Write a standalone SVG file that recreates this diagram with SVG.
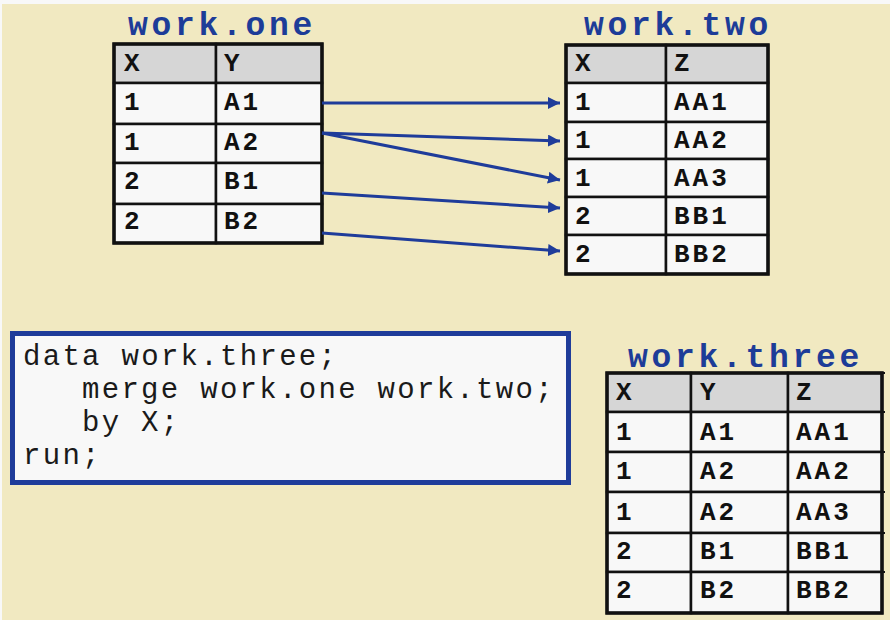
<svg xmlns="http://www.w3.org/2000/svg" width="890" height="620" viewBox="0 0 890 620">
<style>
.title{font-family:"Liberation Mono","Courier New",monospace;font-weight:bold;font-size:33px;letter-spacing:3.7px;fill:#1d3c98}
.cell{font-family:"Liberation Mono","Courier New",monospace;font-weight:bold;font-size:26px;fill:#111;letter-spacing:3px}
.hdr{fill:#d6d6d6;stroke:#111;stroke-width:2.5}
.row{fill:#f8f8f8;stroke:#111;stroke-width:2.5}
.outer{fill:none;stroke:#111;stroke-width:3.5}
.code{font-family:"Liberation Mono","Courier New",monospace;font-size:29px;letter-spacing:2.3px;fill:#1a1a1a}
.conn{stroke:#1f3c9a;stroke-width:3;fill:none}
</style>
<defs>
<marker id="ah" viewBox="0 0 10 10" refX="10" refY="5" markerWidth="4" markerHeight="4" orient="auto" markerUnits="strokeWidth">
<path d="M0,0 L10,5 L0,10 z" fill="#1f3c9a"/>
</marker>
</defs>
<rect x="0" y="0" width="890" height="620" fill="#f8f8f8"/>
<rect x="2" y="4" width="888" height="616" fill="#f1e9c1"/>

<g id="work-one">
<text class="title" x="128" y="35">work.one</text>
<rect class="hdr" x="114" y="44" width="102" height="39"/>
<rect class="hdr" x="216" y="44" width="106" height="39"/>
<rect class="row" x="114" y="83" width="102" height="41"/>
<rect class="row" x="216" y="83" width="106" height="41"/>
<rect class="row" x="114" y="124" width="102" height="39"/>
<rect class="row" x="216" y="124" width="106" height="39"/>
<rect class="row" x="114" y="163" width="102" height="41"/>
<rect class="row" x="216" y="163" width="106" height="41"/>
<rect class="row" x="114" y="204" width="102" height="39"/>
<rect class="row" x="216" y="204" width="106" height="39"/>
<rect class="outer" x="114" y="44" width="208" height="199"/>
<text class="cell" x="124" y="71">X</text><text class="cell" x="224" y="71">Y</text>
<text class="cell" x="124" y="110">1</text><text class="cell" x="224" y="110">A1</text>
<text class="cell" x="124" y="150">1</text><text class="cell" x="224" y="150">A2</text>
<text class="cell" x="124" y="189">2</text><text class="cell" x="224" y="189">B1</text>
<text class="cell" x="124" y="229">2</text><text class="cell" x="224" y="229">B2</text>
</g>

<g id="work-two">
<text class="title" x="584" y="35">work.two</text>
<rect class="hdr" x="566" y="45" width="100" height="38"/>
<rect class="hdr" x="666" y="45" width="102" height="38"/>
<rect class="row" x="566" y="83" width="100" height="39"/>
<rect class="row" x="666" y="83" width="102" height="39"/>
<rect class="row" x="566" y="122" width="100" height="37"/>
<rect class="row" x="666" y="122" width="102" height="37"/>
<rect class="row" x="566" y="159" width="100" height="38"/>
<rect class="row" x="666" y="159" width="102" height="38"/>
<rect class="row" x="566" y="197" width="100" height="38"/>
<rect class="row" x="666" y="197" width="102" height="38"/>
<rect class="row" x="566" y="235" width="100" height="39"/>
<rect class="row" x="666" y="235" width="102" height="39"/>
<rect class="outer" x="566" y="45" width="202" height="229"/>
<text class="cell" x="575" y="71">X</text><text class="cell" x="674" y="71">Z</text>
<text class="cell" x="575" y="110">1</text><text class="cell" x="674" y="110">AA1</text>
<text class="cell" x="575" y="148">1</text><text class="cell" x="674" y="148">AA2</text>
<text class="cell" x="575" y="186">1</text><text class="cell" x="674" y="186">AA3</text>
<text class="cell" x="575" y="224">2</text><text class="cell" x="674" y="224">BB1</text>
<text class="cell" x="575" y="262">2</text><text class="cell" x="674" y="262">BB2</text>
</g>

<g id="connectors">
<line class="conn" x1="322" y1="103" x2="560" y2="103" marker-end="url(#ah)"/>
<line class="conn" x1="322" y1="133" x2="560" y2="141" marker-end="url(#ah)"/>
<line class="conn" x1="322" y1="133" x2="560" y2="180" marker-end="url(#ah)"/>
<line class="conn" x1="322" y1="193" x2="560" y2="208" marker-end="url(#ah)"/>
<line class="conn" x1="322" y1="233" x2="560" y2="251" marker-end="url(#ah)"/>
</g>

<g id="code">
<rect x="12.5" y="333.5" width="556" height="149" fill="#f8f8f8" stroke="#1f3c9a" stroke-width="5"/>
<text class="code" x="23" y="365">data work.three;</text>
<text class="code" x="82" y="398">merge work.one work.two;</text>
<text class="code" x="82" y="431">by X;</text>
<text class="code" x="23" y="464">run;</text>
</g>

<g id="work-three">
<text class="title" x="628" y="367">work.three</text>
<rect class="hdr" x="607" y="373" width="84" height="39"/>
<rect class="hdr" x="691" y="373" width="97" height="39"/>
<rect class="hdr" x="788" y="373" width="94" height="39"/>
<rect class="row" x="607" y="412" width="84" height="40"/>
<rect class="row" x="691" y="412" width="97" height="40"/>
<rect class="row" x="788" y="412" width="94" height="40"/>
<rect class="row" x="607" y="452" width="84" height="40"/>
<rect class="row" x="691" y="452" width="97" height="40"/>
<rect class="row" x="788" y="452" width="94" height="40"/>
<rect class="row" x="607" y="492" width="84" height="41"/>
<rect class="row" x="691" y="492" width="97" height="41"/>
<rect class="row" x="788" y="492" width="94" height="41"/>
<rect class="row" x="607" y="533" width="84" height="39"/>
<rect class="row" x="691" y="533" width="97" height="39"/>
<rect class="row" x="788" y="533" width="94" height="39"/>
<rect class="row" x="607" y="572" width="84" height="41"/>
<rect class="row" x="691" y="572" width="97" height="41"/>
<rect class="row" x="788" y="572" width="94" height="41"/>
<rect class="outer" x="607" y="373" width="275" height="240"/>
<path d="M882,373 h3 M882,412 h3 M882,452 h3 M882,492 h3 M882,533 h3 M882,572 h3" stroke="#111" stroke-width="2"/>
<text class="cell" x="616" y="400">X</text><text class="cell" x="700" y="400">Y</text><text class="cell" x="796" y="400">Z</text>
<text class="cell" x="616" y="440">1</text><text class="cell" x="700" y="440">A1</text><text class="cell" x="796" y="440">AA1</text>
<text class="cell" x="616" y="479">1</text><text class="cell" x="700" y="479">A2</text><text class="cell" x="796" y="479">AA2</text>
<text class="cell" x="616" y="520">1</text><text class="cell" x="700" y="520">A2</text><text class="cell" x="796" y="520">AA3</text>
<text class="cell" x="616" y="559">2</text><text class="cell" x="700" y="559">B1</text><text class="cell" x="796" y="559">BB1</text>
<text class="cell" x="616" y="598">2</text><text class="cell" x="700" y="598">B2</text><text class="cell" x="796" y="598">BB2</text>
</g>
</svg>
